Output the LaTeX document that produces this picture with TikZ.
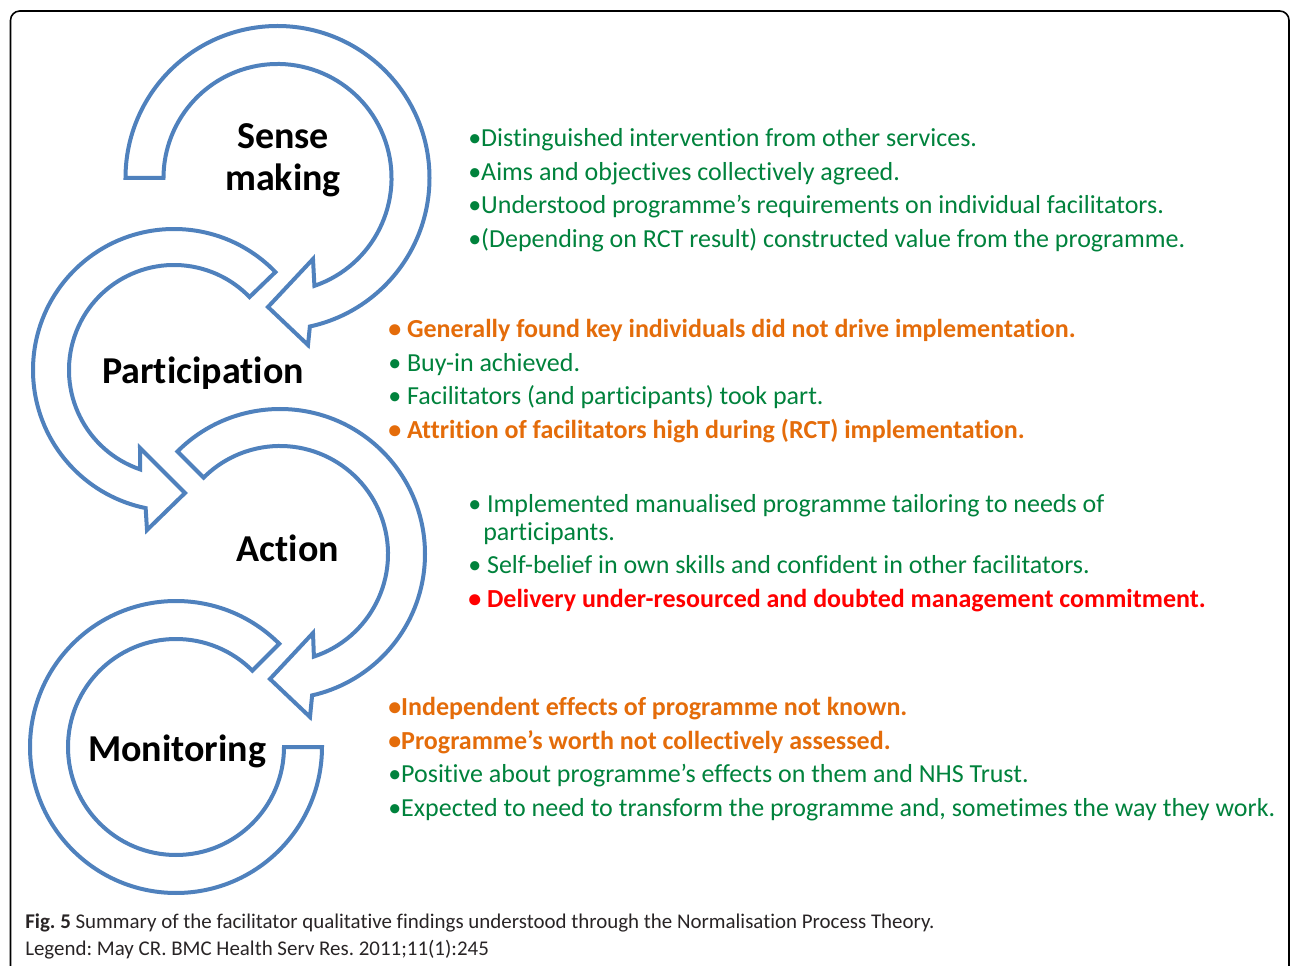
\documentclass[tikz,border=0pt]{standalone}
\usepackage{fontspec}
\setmainfont{Carlito}[Ligatures=NoCommon]
\definecolor{arrblue}{RGB}{79,129,189}
\definecolor{ngreen}{RGB}{0,130,60}
\definecolor{norange}{RGB}{228,108,10}
\definecolor{nred}{RGB}{255,0,0}
\definecolor{capgray}{RGB}{40,36,37}
\begin{document}
\frenchspacing
\begin{tikzpicture}[x=0.75pt,y=-0.75pt,
  arr/.style={draw=arrblue, line width=3pt, fill=white, line join=miter},
  body/.style={anchor=base west, inner sep=0pt, font=\fontsize{19.5}{23}\selectfont},
  grn/.style={body, text=ngreen},
  org/.style={body, text=norange, font=\fontsize{19.5}{23}\selectfont\bfseries},
  redb/.style={body, text=nred, font=\fontsize{19.5}{23}\selectfont\bfseries},
  title/.style={inner sep=0pt, align=center, font=\fontsize{28.5}{31.5}\selectfont\bfseries},
  captxt/.style={anchor=base west, inner sep=0pt, text=capgray, font=\fontsize{15.7}{18}\selectfont}]
\useasboundingbox (0,0) rectangle (1290,966);
\clip (0,0) rectangle (1290,966);
\draw[line width=1.2pt, rounded corners=7] (10.5,11) rectangle (1289,1000);

% Sense making arrow
\draw[arr] ([shift={(277.5,178)}]180:152) arc[start angle=180, end angle=437.7, radius=152]
  -- (308,345) -- (268,307) -- (313,259) -- ([shift={(277.5,178)}]431.1:114)
  arc[start angle=431.1, end angle=180, radius=114] -- cycle;
% Participation arrow
\draw[arr] ([shift={(174,370)}]-44:141) arc[start angle=-44, end angle=-258.4, radius=141]
  -- (147,530) -- (185,493) -- (140,448) -- ([shift={(174,370)}]-251.2:105)
  arc[start angle=-251.2, end angle=-44, radius=105] -- cycle;
% Action arrow
\draw[arr] ([shift={(280,554)}]225:145) arc[start angle=225, end angle=437.2, radius=145]
  -- (310,717) -- (270,679) -- (313,633) -- ([shift={(280,554)}]431.7:108)
  arc[start angle=431.7, end angle=225, radius=108] -- cycle;
% Monitoring arrow
\draw[arr] ([shift={(176,747)}]-45:146) arc[start angle=-45, end angle=-360, radius=146]
  -- ([shift={(176,747)}]-360:108)
  arc[start angle=-360, end angle=-45, radius=108] -- cycle;

\node[title] (sense) at (283,160) {Sense\\making};
\node[title] (part) at (203,373) {Participation};
\node[title] (act) at (288,548) {Action};
\node[title] (mon) at (177,751) {Monitoring};

% block 1
\node[grn] (a1) at (468,146.5) {•Distinguished intervention from other services.};
\node[grn] (a2) at (468,180.5) {•Aims and objectives collectively agreed.};
\node[grn] (a3) at (468,213.5) {•Understood programme’s requirements on individual facilitators.};
\node[grn] (a4) at (468,247.5) {•(Depending on RCT result) constructed value from the programme.};
% block 2
\node[org] (b1) at (388,337.5) {• Generally found key individuals did not drive implementation.};
\node[grn] (b2) at (388,371.5) {• Buy-in achieved.};
\node[grn] (b3) at (388,404.5) {• Facilitators (and participants) took part.};
\node[org] (b4) at (388,438.5) {• Attrition of facilitators high during (RCT) implementation.};
% block 3
\node[grn] (c1) at (468,512.5) {• Implemented manualised programme tailoring to needs of};
\node[grn] (c1b) at (483,540.5) {participants.};
\node[grn] (c2) at (468,573.5) {• Self-belief in own skills and confident in other facilitators.};
\node[redb] (c3) at (468,607.5) {• Delivery under-resourced and doubted management commitment.};
% block 4
\node[org] (d1) at (388,715.5) {•Independent effects of programme not known.};
\node[org] (d2) at (388,749.5) {•Programme’s worth not collectively assessed.};
\node[grn] (d3) at (388,782.5) {•Positive about programme’s effects on them and NHS Trust.};
\node[grn] (d4) at (388,816.5) {•Expected to need to transform the programme and, sometimes the way they work.};

% caption
\node[captxt] (cap1) at (25,928) {\textbf{Fig. 5} Summary of the facilitator qualitative findings understood through the Normalisation Process Theory.};
\node[captxt] (cap2) at (25,955) {Legend: May CR. BMC Health Serv Res. 2011;11(1):245};
\end{tikzpicture}
\end{document}
